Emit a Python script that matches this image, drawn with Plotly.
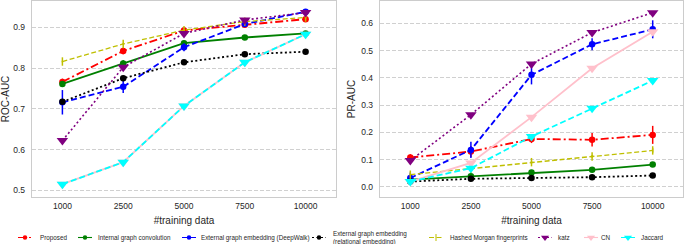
import plotly.graph_objects as go

# ---------------- data ----------------
train_sizes = ["1000", "2500", "5000", "7500", "10000"]
method_names = ["Proposed", "Internal graph convolution", "External graph embedding (DeepWalk)",
                "External graph embedding<br>(relational embedding)", "Hashed Morgan fingerprints",
                "katz", "CN", "Jaccard"]

roc_proposed = [0.766, 0.842, 0.892, 0.906, 0.920]
roc_internal = [0.761, 0.811, 0.861, 0.875, 0.885]
roc_deepwalk = [0.716, 0.754, 0.851, 0.908, 0.938]
roc_relational = [0.717, 0.775, 0.814, 0.834, 0.840]
roc_hashed = [0.816, 0.859, 0.893, 0.914, 0.924]
roc_katz = [0.622, 0.802, 0.885, 0.918, 0.936]
roc_cn = [0.515, 0.569, 0.707, 0.814, 0.883]
roc_jaccard = [0.515, 0.569, 0.707, 0.814, 0.883]

roc_err_proposed = [0.008, 0.008, 0.005, 0.006, 0.005]
roc_err_internal = [0.006, 0.008, 0.004, 0.004, 0.003]
roc_err_deepwalk = [0.03, 0.015, 0.01, 0.006, 0.006]
roc_err_relational = [0.005, 0.004, 0.003, 0.003, 0.003]
roc_err_hashed = [0.002, 0.002, 0.002, 0.002, 0.002]

pr_proposed = [0.108, 0.130, 0.176, 0.173, 0.191]
pr_internal = [0.027, 0.039, 0.053, 0.063, 0.082]
pr_deepwalk = [0.033, 0.136, 0.411, 0.523, 0.578]
pr_relational = [0.020, 0.030, 0.033, 0.036, 0.042]
pr_hashed = [0.045, 0.067, 0.091, 0.112, 0.134]
pr_katz = [0.097, 0.265, 0.451, 0.566, 0.639]
pr_cn = [0.020, 0.088, 0.256, 0.435, 0.569]
pr_jaccard = [0.020, 0.069, 0.185, 0.289, 0.390]

pr_err_proposed = [0.012, 0.02, 0.015, 0.025, 0.033]
pr_err_internal = [0.003, 0.004, 0.005, 0.005, 0.006]
pr_err_deepwalk = [0.02, 0.03, 0.035, 0.022, 0.033]
pr_err_relational = [0.002, 0.002, 0.002, 0.002, 0.003]
pr_err_hashed = [0.003, 0.003, 0.004, 0.005, 0.008]

# ---------------- styles ----------------
W, H = 685, 244
FONT = "Liberation Sans"
styles = [
    dict(color="#ff0000", dash="8px,3px,2px,3px", symbol="circle", size=6.5, lw=1.8, lsize=4.5),
    dict(color="#008000", dash="solid", symbol="circle", size=6.5, lw=1.8, lsize=4.5),
    dict(color="#0000ff", dash="6px,3px", symbol="circle", size=6.5, lw=1.8, lsize=4.5),
    dict(color="#000000", dash="2px,2.5px", symbol="circle", size=6.5, lw=1.8, lsize=4.5),
    dict(color="#bfbf00", dash="5px,2.5px", symbol="line-ns-open", size=6, lw=1.3, lsize=5),
    dict(color="#800080", dash="2px,2.5px", symbol="triangle-down", size=10, lw=1.6, lsize=7),
    dict(color="#ffc0cb", dash="solid", symbol="triangle-down", size=10, lw=1.8, lsize=7),
    dict(color="#00ffff", dash="6px,3px", symbol="triangle-down", size=10, lw=1.8, lsize=7),
]

roc_series = [roc_proposed, roc_internal, roc_deepwalk, roc_relational, roc_hashed, roc_katz, roc_cn, roc_jaccard]
roc_errs = [roc_err_proposed, roc_err_internal, roc_err_deepwalk, roc_err_relational, roc_err_hashed, None, None, None]
pr_series = [pr_proposed, pr_internal, pr_deepwalk, pr_relational, pr_hashed, pr_katz, pr_cn, pr_jaccard]
pr_errs = [pr_err_proposed, pr_err_internal, pr_err_deepwalk, pr_err_relational, pr_err_hashed, None, None, None]

fig = go.Figure()

def add_series(vals, errs, st, xa, ya):
    err = None
    if errs is not None:
        err = dict(type="data", array=errs, visible=True, color=st["color"], thickness=1.5, width=0)
    fig.add_trace(go.Scatter(
        x=train_sizes, y=vals, mode="lines+markers", xaxis=xa, yaxis=ya,
        line=dict(color=st["color"], dash=st["dash"], width=st["lw"]),
        marker=dict(symbol=st["symbol"], size=st["size"], color=st["color"],
                    line=dict(color=st["color"], width=1.5 if "line" in st["symbol"] else 0)),
        error_y=err, showlegend=False, hoverinfo="skip"))

for vals, errs, st in zip(roc_series, roc_errs, styles):
    add_series(vals, errs, st, "x", "y")
for vals, errs, st in zip(pr_series, pr_errs, styles):
    add_series(vals, errs, st, "x2", "y2")

# ---------------- manual legend (strip axes in pixel units) ----------------
leg_line_x = [18, 78, 182, 312, 429, 538, 584, 621]
leg_text_x = [38, 96, 199, 331, 448, 556, 599, 639]
leg_y = 237.5
STRIP_TOP = 228
for name, st, lx, tx in zip(method_names, styles, leg_line_x, leg_text_x):
    fig.add_trace(go.Scatter(x=[lx, lx + 14], y=[leg_y, leg_y], mode="lines", xaxis="x3", yaxis="y3",
                             line=dict(color=st["color"], dash=st["dash"], width=1.1),
                             showlegend=False, hoverinfo="skip", cliponaxis=False))
    fig.add_trace(go.Scatter(x=[lx + 7], y=[leg_y], mode="markers", xaxis="x3", yaxis="y3",
                             marker=dict(symbol=st["symbol"], size=st["lsize"], color=st["color"],
                                         line=dict(color=st["color"], width=1 if "line" in st["symbol"] else 0)),
                             showlegend=False, hoverinfo="skip", cliponaxis=False))
    fig.add_annotation(x=tx / W, y=1 - leg_y / H, xref="paper", yref="paper", text=name,
                       showarrow=False, xanchor="left", yanchor="middle", align="left",
                       font=dict(family=FONT, size=6.3, color="#262626"))

grid = dict(showgrid=True, gridcolor="#d0d0d0", griddash="4px,2px", gridwidth=1)
frame = dict(showline=True, linecolor="#cccccc", linewidth=1.2, mirror=True, zeroline=False)
tickfont = dict(family=FONT, size=8.5, color="#262626")
titlefont = dict(family=FONT, size=10, color="#262626")

ytop = 1 - 1 / H
ybot = 1 - 197 / H

fig.update_layout(
    width=W, height=H, margin=dict(l=0, r=0, t=0, b=0),
    paper_bgcolor="white", plot_bgcolor="rgba(0,0,0,0)", showlegend=False,
    font=dict(family=FONT),
    xaxis=dict(domain=[32 / W, 336 / W], anchor="y", type="category", range=[-0.5, 4.5],
               showgrid=False, ticks="outside", ticklen=1, tickcolor="rgba(0,0,0,0)",
               tickfont=tickfont, title=dict(text="#training data", font=titlefont, standoff=6), **frame),
    yaxis=dict(domain=[ybot, ytop], anchor="x", range=[0.4836, 0.9645],
               tickvals=[0.5, 0.6, 0.7, 0.8, 0.9], ticktext=["0.5", "0.6", "0.7", "0.8", "0.9"],
               ticks="outside", ticklen=4, tickcolor="rgba(0,0,0,0)", tickfont=tickfont,
               title=dict(text="ROC-AUC", font=titlefont, standoff=3), **grid, **frame),
    xaxis2=dict(domain=[380 / W, 683 / W], anchor="y2", type="category", range=[-0.5, 4.5],
                showgrid=False, ticks="outside", ticklen=1, tickcolor="rgba(0,0,0,0)",
                tickfont=tickfont, title=dict(text="#training data", font=titlefont, standoff=6), **frame),
    yaxis2=dict(domain=[ybot, ytop], anchor="x2", range=[-0.0367, 0.6817],
                tickvals=[0.0, 0.1, 0.2, 0.3, 0.4, 0.5, 0.6],
                ticktext=["0.0", "0.1", "0.2", "0.3", "0.4", "0.5", "0.6"],
                ticks="outside", ticklen=4, tickcolor="rgba(0,0,0,0)", tickfont=tickfont,
                title=dict(text="PR-AUC", font=titlefont, standoff=3), **grid, **frame),
    xaxis3=dict(domain=[0, 1], anchor="y3", range=[0, W], visible=False, fixedrange=True),
    yaxis3=dict(domain=[0, 1 - STRIP_TOP / H], anchor="x3", range=[H, STRIP_TOP],
                visible=False, fixedrange=True),
)

fig.write_html("out.html", config={"displayModeBar": False, "staticPlot": True},
               post_script="document.body.style.margin='0px';")
